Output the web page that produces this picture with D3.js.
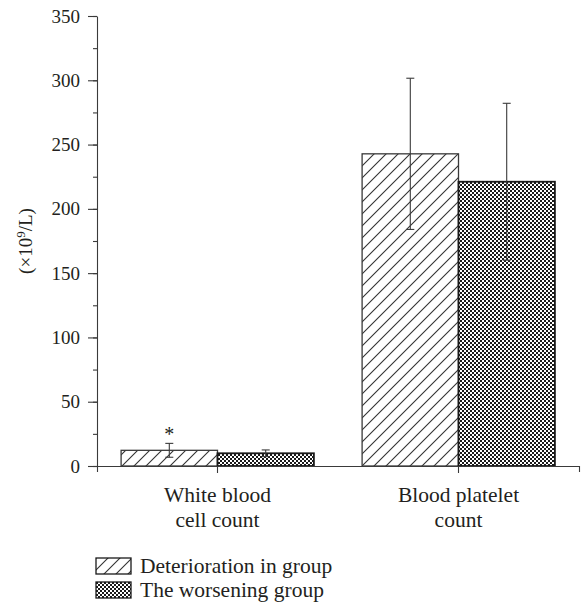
<!DOCTYPE html>
<html>
<head>
<meta charset="utf-8">
<script src="https://cdn.jsdelivr.net/npm/d3@7"></script>
<style>
  body { margin: 0; background: #fff; }
  svg text { font-family: "Liberation Serif", "Times New Roman", "DejaVu Serif", serif; fill: #231f20; }
</style>
</head>
<body>
<div id="chart"></div>
<script>
// data
categories = ["White blood cell count", "Blood platelet count"];
categoryLines = [["White blood", "cell count"], ["Blood platelet", "count"]];
groups = ["Deterioration in group", "The worsening group"];
deteriorationMean = [12.2, 242.8];
deteriorationSD = [5.4, 58.8];
worseningMean = [9.9, 221.1];
worseningSD = [2.6, 61.0];
significance = ["*", ""];
yTicks = [0, 50, 100, 150, 200, 250, 300, 350];

width = 582;
height = 610;
margin = ({top: 16, right: 3, bottom: 144, left: 97});
serif = "'Liberation Serif', 'Times New Roman', 'DejaVu Serif', serif";

const svg = d3.select("#chart")
    .append("svg")
    .attr("width", width)
    .attr("height", height)
    .attr("font-family", serif);

const defs = svg.append("defs");

// diagonal hatch
const hatch = defs.append("pattern")
    .attr("id", "hatch")
    .attr("patternUnits", "userSpaceOnUse")
    .attr("width", 12)
    .attr("height", 12);
hatch.append("rect").attr("width", 12).attr("height", 12).attr("fill", "#fff");
hatch.append("path")
    .attr("d", "M-3,3 L3,-3 M0,12 L12,0 M9,15 L15,9")
    .attr("stroke", "#333")
    .attr("stroke-width", 1.1);

// fine checker
const checker = defs.append("pattern")
    .attr("id", "checker")
    .attr("patternUnits", "userSpaceOnUse")
    .attr("width", 4)
    .attr("height", 4);
checker.append("rect").attr("width", 4).attr("height", 4).attr("fill", "#fff");
checker.append("rect").attr("width", 2).attr("height", 2).attr("fill", "#1a1a1a");
checker.append("rect").attr("x", 2).attr("y", 2).attr("width", 2).attr("height", 2).attr("fill", "#1a1a1a");

fills = ["url(#hatch)", "url(#checker)"];

var x = d3.scaleBand()
    .domain(categories)
    .range([margin.left, width - margin.right]);

var y = d3.scaleLinear()
    .domain([0, 350])
    .range([height - margin.bottom, margin.top]);

const barW = x.bandwidth() * 0.4;

const series = groups.map((g, i) => ({
    group: g,
    mean: i === 0 ? deteriorationMean : worseningMean,
    sd: i === 0 ? deteriorationSD : worseningSD
}));

const rows = [];
series.forEach((s, i) => {
    categories.forEach((c, j) => {
        rows.push({cat: c, gi: i, mean: s.mean[j], sd: s.sd[j], j: j});
    });
});

function barX(d) {
    const center = x(d.cat) + x.bandwidth() / 2;
    return d.gi === 0 ? center - barW : center;
}

// bars
svg.append("g")
    .selectAll("rect")
    .data(rows)
    .join("rect")
    .attr("x", d => barX(d))
    .attr("y", d => y(d.mean))
    .attr("width", barW)
    .attr("height", d => y(0) - y(d.mean))
    .attr("fill", d => fills[d.gi])
    .attr("stroke", d => d.gi === 0 ? "#3a3a3a" : "#1a1a1a")
    .attr("stroke-width", d => d.gi === 0 ? 1.3 : 1.8);

// error bars
const err = svg.append("g")
    .attr("stroke", "#3a3a3a")
    .attr("stroke-width", 1.1)
    .selectAll("g")
    .data(rows)
    .join("g");

err.append("line")
    .attr("x1", d => barX(d) + barW / 2)
    .attr("x2", d => barX(d) + barW / 2)
    .attr("y1", d => y(d.mean - d.sd))
    .attr("y2", d => y(d.mean + d.sd));
err.append("line")
    .attr("x1", d => barX(d) + barW / 2 - 4)
    .attr("x2", d => barX(d) + barW / 2 + 4)
    .attr("y1", d => y(d.mean + d.sd))
    .attr("y2", d => y(d.mean + d.sd));
err.append("line")
    .attr("x1", d => barX(d) + barW / 2 - 4)
    .attr("x2", d => barX(d) + barW / 2 + 4)
    .attr("y1", d => y(d.mean - d.sd))
    .attr("y2", d => y(d.mean - d.sd));

// significance marks
svg.append("g")
    .selectAll("text")
    .data(rows.filter(d => d.gi === 0 && significance[d.j]))
    .join("text")
    .attr("x", d => barX(d) + barW / 2)
    .attr("y", d => y(d.mean + d.sd) - 2)
    .attr("text-anchor", "middle")
    .attr("font-size", "20px")
    .text(d => significance[d.j]);

// y axis: minor ticks then labelled ticks
svg.append("g")
    .attr("transform", `translate(${margin.left},0)`)
    .call(d3.axisLeft(y).tickValues(d3.range(0, 351, 25)).tickSize(4).tickFormat(""))
    .call(g => g.select(".domain").remove());
svg.append("g")
    .attr("transform", `translate(${margin.left},0)`)
    .call(d3.axisLeft(y).tickValues(yTicks).tickSize(9).tickSizeOuter(0).tickPadding(8))
    .call(g => g.selectAll("text").attr("font-size", "19px").attr("font-family", serif).attr("fill", "#231f20"));
svg.selectAll(".domain, .tick line").attr("stroke", "#3a3a3a").attr("stroke-width", 1.1);

// x axis
const xAxis = svg.append("g")
    .attr("transform", `translate(0,${y(0)})`)
    .call(d3.axisBottom(x).tickSize(7).tickSizeOuter(6).tickFormat(""));
xAxis.select(".domain").attr("stroke", "#3a3a3a").attr("stroke-width", 1.1);
xAxis.selectAll(".tick line").attr("stroke", "#3a3a3a").attr("stroke-width", 1.1);

svg.append("g")
    .selectAll("text")
    .data(categories)
    .join("text")
    .attr("x", d => x(d) + x.bandwidth() / 2)
    .attr("y", y(0) + 36)
    .attr("text-anchor", "middle")
    .attr("font-size", "21.5px")
    .selectAll("tspan")
    .data((d, i) => categoryLines[i])
    .join("tspan")
    .attr("x", function() { return d3.select(this.parentNode).attr("x"); })
    .attr("dy", (d, i) => i === 0 ? 0 : 25)
    .text(d => d);

// y label
svg.append("text")
    .attr("transform", `translate(32,${(y(0) + y(350)) / 2}) rotate(-90)`)
    .attr("text-anchor", "middle")
    .attr("font-size", "19px")
    .html("(×10<tspan dy='-7' font-size='13px'>9</tspan><tspan dy='7'>/L)</tspan>");

// legend
const legend = svg.append("g")
    .attr("transform", "translate(96,558)")
    .selectAll("g")
    .data(groups)
    .join("g")
    .attr("transform", (d, i) => `translate(0,${i * 24})`);
legend.append("rect")
    .attr("width", 35)
    .attr("height", 16)
    .attr("fill", (d, i) => fills[i])
    .attr("stroke", "#1a1a1a")
    .attr("stroke-width", 1.3);
legend.append("text")
    .attr("x", 44)
    .attr("y", 15)
    .attr("font-size", "21.5px")
    .text(d => d);
</script>
</body>
</html>
